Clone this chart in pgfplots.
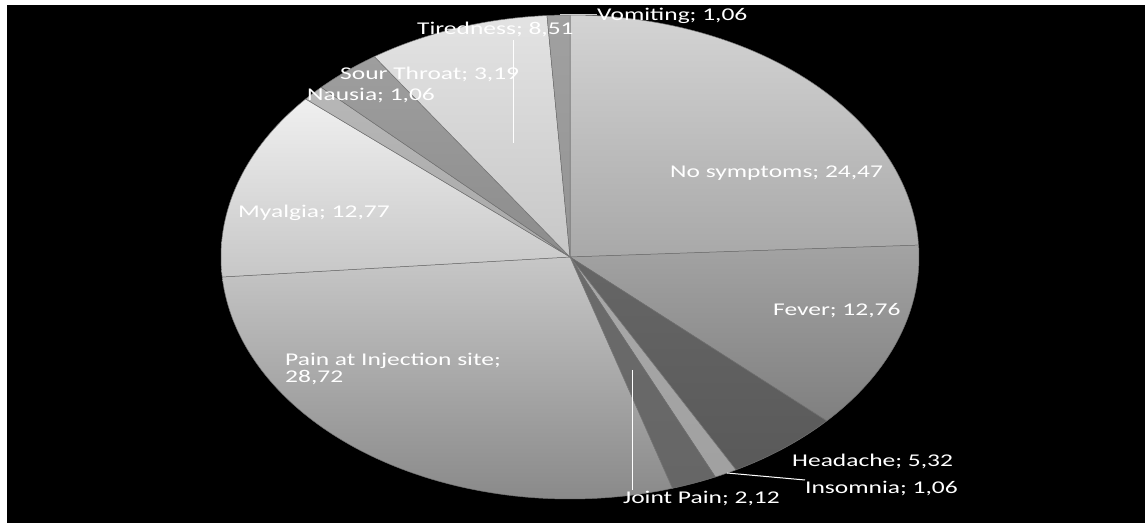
\documentclass[border=0pt]{standalone}
\usepackage{pgfplots}
\pgfplotsset{compat=1.18}
\usepackage{fontspec}
\setmainfont{Carlito}
\newfontfamily\lbl[FakeStretch=1.42]{Carlito}
\definecolor{slicedge}{gray}{0.45}
\definecolor{c1t}{gray}{0.83}\definecolor{c1b}{gray}{0.66}
\definecolor{c2t}{gray}{0.64}\definecolor{c2b}{gray}{0.50}
\definecolor{c3t}{gray}{0.40}\definecolor{c3b}{gray}{0.35}
\definecolor{c4t}{gray}{0.66}\definecolor{c4b}{gray}{0.63}
\definecolor{c5t}{gray}{0.42}\definecolor{c5b}{gray}{0.40}
\definecolor{c6t}{gray}{0.78}\definecolor{c6b}{gray}{0.54}
\definecolor{c7t}{gray}{0.94}\definecolor{c7b}{gray}{0.78}
\definecolor{c8t}{gray}{0.72}\definecolor{c8b}{gray}{0.66}
\definecolor{c9t}{gray}{0.62}\definecolor{c9b}{gray}{0.55}
\definecolor{c10t}{gray}{0.89}\definecolor{c10b}{gray}{0.78}
\definecolor{c11t}{gray}{0.63}\definecolor{c11b}{gray}{0.58}
% total of all values below
\def\total{101.04}
\gdef\cum{0}
\newcommand\slice[3]{%
  \pgfmathsetmacro\sa{90-360*(\cum/\total)}%
  \pgfmathsetmacro\cumnew{\cum+#1}%
  \pgfmathsetmacro\sb{90-360*(\cumnew/\total)}%
  \global\let\cum\cumnew
  \edef\tmp{\noexpand\addplot[draw=slicedge, line width=0.5bp, top color=#2, bottom color=#3, domain=\sb:\sa, samples=90] ({570+349*cos(x)},{266+242*sin(x)}) -- (axis cs:570,266) -- cycle;}%
  \tmp}
\tikzset{lab/.style={anchor=base west, inner sep=0pt, text=white, font=\lbl\fontsize{18}{18}\selectfont}}
\begin{document}
\begin{tikzpicture}
\begin{axis}[x=1bp, y=1bp, xmin=0, xmax=1145, ymin=0, ymax=523, hide axis, scale only axis, clip=false]
\fill[white] (axis cs:0,0) rectangle (axis cs:1145,523);
\fill[black] (axis cs:7,0) rectangle (axis cs:1145,518);
\slice{24.47}{c1t}{c1b}
\slice{12.76}{c2t}{c2b}
\slice{5.32}{c3t}{c3b}
\slice{1.06}{c4t}{c4b}
\slice{2.12}{c5t}{c5b}
\slice{28.72}{c6t}{c6b}
\slice{12.77}{c7t}{c7b}
\slice{1.06}{c8t}{c8b}
\slice{3.19}{c9t}{c9b}
\slice{8.51}{c10t}{c10b}
\slice{1.06}{c11t}{c11b}
\draw[white, line width=1bp] (axis cs:513,483) -- (axis cs:513,380);
\draw[white, line width=1bp] (axis cs:632,153) -- (axis cs:632,33);
\draw[white, line width=1bp] (axis cs:727,50) -- (axis cs:805,43);
\draw[gray!40, line width=1bp] (axis cs:560,508) -- (axis cs:597,508);
\node[lab] at (axis cs:597,502) {Vomiting; 1,06};
\node[lab] at (axis cs:417,488) {Tiredness; 8,51};
\node[lab] at (axis cs:340,443) {Sour Throat; 3,19};
\node[lab] at (axis cs:307,422) {Nausia; 1,06};
\node[lab] at (axis cs:238,305) {Myalgia; 12,77};
\node[lab] at (axis cs:670,345) {No symptoms; 24,47};
\node[lab] at (axis cs:773,207) {Fever; 12,76};
\node[lab] at (axis cs:792,56) {Headache; 5,32};
\node[lab] at (axis cs:805,29) {Insomnia; 1,06};
\node[lab] at (axis cs:623,19) {Joint Pain; 2,12};
\node[lab] at (axis cs:285,157) {Pain at Injection site;};
\node[lab] at (axis cs:285,140) {28,72};
\end{axis}
\end{tikzpicture}
\end{document}
